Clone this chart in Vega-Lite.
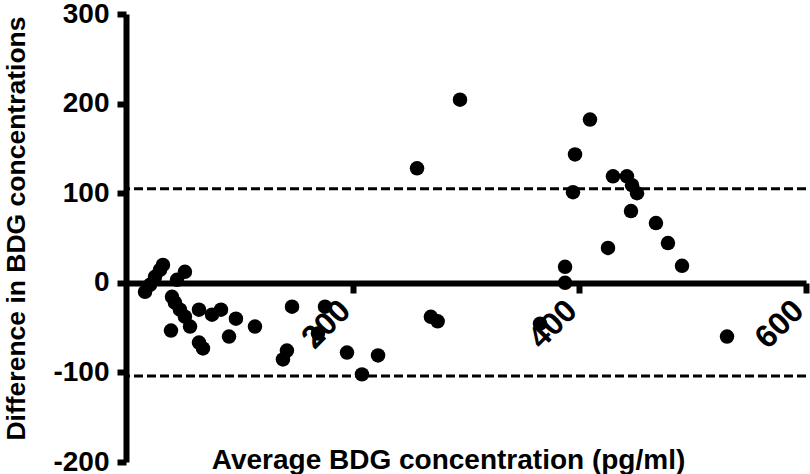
{
  "$schema": "https://vega.github.io/schema/vega-lite/v6.json",
  "width": 680,
  "height": 448,
  "autosize": "none",
  "padding": {"left": 126, "top": 14, "right": 4, "bottom": 12},
  "background": "white",
  "config": {
    "view": {"stroke": null},
    "font": "Liberation Sans",
    "axis": {"grid": false, "domainColor": "black", "tickColor": "black", "labelColor": "black", "titleColor": "black", "labelFont": "Liberation Sans", "titleFont": "Liberation Sans", "labelFontWeight": "bold", "titleFontWeight": "bold"}
  },
  "datasets": {
    "points": [
      {"avg": 16.8, "diff": -10}, {"avg": 21.2, "diff": -2.2}, {"avg": 25.6, "diff": 6.7}, {"avg": 30, "diff": 14.4}, {"avg": 32.6, "diff": 20},
      {"avg": 45, "diff": 3.3}, {"avg": 52, "diff": 12.2}, {"avg": 40.6, "diff": -15.6}, {"avg": 43.2, "diff": -22.2}, {"avg": 47.6, "diff": -30},
      {"avg": 52, "diff": -37.8}, {"avg": 56.5, "diff": -48.9}, {"avg": 39.7, "diff": -53.3}, {"avg": 64.4, "diff": -30}, {"avg": 75.9, "diff": -35.6},
      {"avg": 83.8, "diff": -30}, {"avg": 97, "diff": -40}, {"avg": 113.8, "diff": -48.9}, {"avg": 64.4, "diff": -66.7}, {"avg": 67.9, "diff": -73.3},
      {"avg": 90.9, "diff": -60}, {"avg": 146.5, "diff": -26.7}, {"avg": 175.6, "diff": -26.7}, {"avg": 142, "diff": -75.6}, {"avg": 138.5, "diff": -85.6},
      {"avg": 169.4, "diff": -56.7}, {"avg": 195, "diff": -77.8}, {"avg": 222.4, "diff": -81.1}, {"avg": 208.2, "diff": -102.2}, {"avg": 294.7, "diff": 204.4},
      {"avg": 256.8, "diff": 127.8}, {"avg": 269, "diff": -38}, {"avg": 275, "diff": -43}, {"avg": 365.3, "diff": -45.6}, {"avg": 409.4, "diff": 182.2},
      {"avg": 396.2, "diff": 143.3}, {"avg": 394.4, "diff": 101.1}, {"avg": 387.4, "diff": 17.8}, {"avg": 387.4, "diff": 0}, {"avg": 425.3, "diff": 38.9},
      {"avg": 429.7, "diff": 118.9}, {"avg": 442, "diff": 118.9}, {"avg": 446.5, "diff": 108.9}, {"avg": 450.9, "diff": 100}, {"avg": 445.6, "diff": 80},
      {"avg": 467.6, "diff": 66.7}, {"avg": 478.2, "diff": 44.4}, {"avg": 490.6, "diff": 18.9}, {"avg": 530.3, "diff": -60}
    ],
    "limits": [{"limit": 105}, {"limit": -104}]
  },
  "layer": [
    {
      "data": {"name": "limits"},
      "mark": {"type": "rule", "color": "black", "strokeWidth": 3, "strokeDash": [9, 4]},
      "encoding": {
        "y": {"field": "limit", "type": "quantitative", "scale": {"domain": [-200, 300], "nice": false}}
      }
    },
    {
      "data": {"name": "points"},
      "mark": {"type": "circle", "size": 210, "color": "black", "opacity": 1},
      "encoding": {
        "x": {
          "field": "avg", "type": "quantitative",
          "scale": {"domain": [0, 600], "nice": false},
          "axis": {
            "title": "Average BDG concentration (pg/ml)",
            "offset": -179,
            "values": [200, 400, 600],
            "domainWidth": 6, "tickWidth": 6, "tickSize": 10,
            "labelAngle": -45, "labelAlign": "right", "labelBaseline": "bottom", "labelPadding": 24, "labelOffset": 4,
            "labelFontSize": 32,
            "titleFontSize": 28, "titleX": 322, "titleY": 177, "titleBaseline": "middle", "titleAlign": "center", "titleAnchor": null
          }
        },
        "y": {
          "field": "diff", "type": "quantitative",
          "scale": {"domain": [-200, 300], "nice": false},
          "axis": {
            "title": "Difference in BDG concentrations",
            "values": [-200, -100, 0, 100, 200, 300],
            "labelExpr": "datum.value < 0 ? '-' + abs(datum.value) : '' + datum.value",
            "domainWidth": 6, "tickWidth": 6, "tickSize": 9,
            "labelPadding": 8, "labelFontSize": 28,
            "titleFontSize": 26.5, "titleX": -110, "titleY": 214, "titleBaseline": "middle", "titleAlign": "center", "titleAngle": -90
          }
        }
      }
    }
  ]
}
